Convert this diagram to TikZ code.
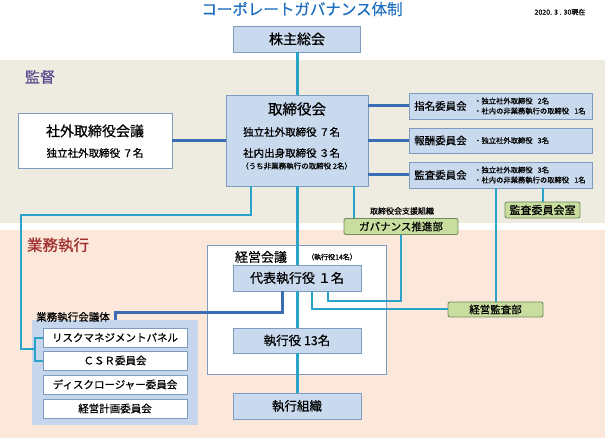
\documentclass[tikz,border=0pt]{standalone}
\usepackage{fontspec}
\setmainfont{Noto Sans CJK JP}[RawFeature={embolden=0.6}]

\definecolor{boxfill}{HTML}{C9DAEE}
\definecolor{boxline}{HTML}{7D9CC0}
\definecolor{gfill}{HTML}{C8DD9E}
\definecolor{gline}{HTML}{6E8C5E}
\definecolor{tealc}{HTML}{2BA2C8}
\definecolor{bluec}{HTML}{3B6DB4}
\definecolor{beigebg}{HTML}{EEEBE1}
\definecolor{peachbg}{HTML}{FCE8DA}
\definecolor{titleblue}{HTML}{1E6EBE}
\definecolor{supercol}{HTML}{5B4A8C}
\definecolor{execcol}{HTML}{A0302E}
\definecolor{panelfill}{HTML}{C6D6EC}

\begin{document}
\begin{tikzpicture}[x=1pt,y=-1pt,
    box/.style={draw=boxline,fill=boxfill,line width=0.9pt,inner sep=0pt},
    wbox/.style={draw=boxline,fill=white,line width=0.9pt,inner sep=0pt},
    gbox/.style={draw=gline,fill=gfill,line width=0.9pt,rounded corners=2pt,inner sep=0pt},
    spine/.style={draw=tealc,line width=3pt},
    link/.style={draw=tealc,line width=2pt},
    blink/.style={draw=bluec,line width=3pt},
    big/.style={font=\fontsize{14}{16}\selectfont},
    mid/.style={font=\fontsize{10.5}{12}\selectfont},
    tiny/.style={font=\fontsize{7.3}{10}\selectfont,inner sep=0pt},
  ]
  \useasboundingbox (0,0) rectangle (605,438);

  % bands
  \fill[beigebg] (0,60) rectangle (605,223);
  \fill[peachbg] (0,230) rectangle (605,438);

  % heading
  \node[text=titleblue,font=\fontsize{15.5}{17}\selectfont] (title) at (302,9) {コーポレートガバナンス体制};
  \node[font=\fontsize{7}{8}\selectfont] (date) at (560,12) {2020. 3 . 30現在};
  \node[text=supercol,font=\fontsize{15}{17}\selectfont] (superlabel) at (40,77) {監督};
  \node[text=execcol,font=\fontsize{15.5}{17}\selectfont] (execlabel) at (58,245) {業務執行};

  % supervision
  \node[box,big,minimum width=127pt,minimum height=26pt] (agm) at (297,39) {株主総会};
  \node[box,minimum width=142pt,minimum height=91pt] (board) at (297,140.5) {};
  \node[font=\fontsize{14.5}{16}\selectfont] (boardtitle) at (297,109) {取締役会};
  \node[mid,anchor=west,inner sep=0pt] (boardout) at (243,132) {独立社外取締役 ７名};
  \node[mid,anchor=west,inner sep=0pt] (boardin) at (243,153) {社内出身取締役 ３名};
  \node[font=\fontsize{7.5}{9}\selectfont,anchor=west,inner sep=0pt] (boardnote) at (241,166) {（うち非業務執行の取締役 2名）};

  \node[wbox,minimum width=154pt,minimum height=55pt] (ocd) at (95,140.5) {};
  \node[big] (ocdtitle) at (95,131) {社外取締役会議};
  \node[mid] (ocdmem) at (95,153) {独立社外取締役 ７名};

  % committees
  \node[box,minimum width=183pt,minimum height=26pt] (nom) at (500.5,106) {};
  \node[mid,anchor=west,inner sep=0pt] (nomname) at (414,106) {指名委員会};
  \node[tiny,anchor=west,align=left] (nommem) at (474,106) {・独立社外取締役\hspace{0.7em}2名\\・社内の非業務執行の取締役\hspace{0.7em}1名};
  \node[box,minimum width=183pt,minimum height=25pt] (rem) at (500.5,140.5) {};
  \node[mid,anchor=west,inner sep=0pt] (remname) at (414,140.5) {報酬委員会};
  \node[tiny,anchor=west,align=left] (remmem) at (474,140.5) {・独立社外取締役\hspace{0.7em}3名};
  \node[box,minimum width=183pt,minimum height=26pt] (aud) at (500.5,175) {};
  \node[mid,anchor=west,inner sep=0pt] (audname) at (414,175) {監査委員会};
  \node[tiny,anchor=west,align=left] (audmem) at (474,175) {・独立社外取締役\hspace{0.7em}3名\\・社内の非業務執行の取締役\hspace{0.7em}1名};

  \node[gbox,font=\fontsize{11}{12}\selectfont,minimum width=75pt,minimum height=16pt] (auditroom) at (542.5,210) {監査委員会室};
  \node[font=\fontsize{8}{9}\selectfont] (govnote) at (402,211) {取締役会支援組織};
  \node[gbox,mid,minimum width=114pt,minimum height=16pt] (govdept) at (401,226.5) {ガバナンス推進部};

  % execution
  \node[wbox,line width=0.6pt,minimum width=179pt,minimum height=129pt] (mgmt) at (296.5,309.5) {};
  \node[font=\fontsize{13}{15}\selectfont] (mgmttitle) at (261,257) {経営会議};
  \node[font=\fontsize{7}{8}\selectfont] (mgmtnote) at (332,257) {（執行役14名）};
  \node[box,font=\fontsize{13}{15}\selectfont,minimum width=128pt,minimum height=26pt] (ceo) at (297,278) {代表執行役 １名};
  \node[box,font=\fontsize{12.5}{15}\selectfont,minimum width=128pt,minimum height=25pt] (execs) at (297,340.5) {執行役 13名};
  \node[box,font=\fontsize{12.5}{15}\selectfont,minimum width=128pt,minimum height=26pt] (org) at (297,406) {執行組織};
  \node[gbox,mid,minimum width=95pt,minimum height=15pt] (auditdept) at (495.5,309.5) {経営監査部};

  \node[fill=panelfill,minimum width=166pt,minimum height=105pt] (panel) at (115,372.5) {};
  \node[mid,inner sep=0pt] (paneltitle) at (73,317) {業務執行会議体};
  \node[wbox,mid,minimum width=144pt,minimum height=19pt] (risk) at (115,337.5) {リスクマネジメントパネル};
  \node[wbox,mid,minimum width=144pt,minimum height=19pt] (csr) at (115,360.5) {ＣＳＲ委員会};
  \node[wbox,mid,minimum width=144pt,minimum height=19pt] (disc) at (115,384.5) {ディスクロージャー委員会};
  \node[wbox,mid,minimum width=144pt,minimum height=19pt] (plan) at (115,408.5) {経営計画委員会};

  % connectors
  \draw[spine] (agm.south) -- (board.north);
  \draw[spine] (board.south) -- (ceo.north);
  \draw[spine] (ceo.south) -- (execs.north);
  \draw[spine] (execs.south) -- (org.north);

  \draw[blink] (ocd.east) -- (board.west);
  \draw[blink] (nom.west) -- (nom.west -| board.east);
  \draw[blink] (rem.west) -- (rem.west -| board.east);
  \draw[blink] (aud.west) -- (aud.west -| board.east);

  \draw[link] (auditroom.north) -- (auditroom.north |- aud.south);
  \draw[link] (auditdept.north) -- (auditdept.north |- aud.south);
  \draw[link] ([xshift=57pt]board.south) -- ([xshift=57pt]board.south |- govdept.north);

  \coordinate (lbend) at (21,215);
  \coordinate (fork) at (35,349);
  \draw[link] ([xshift=-46pt]board.south) |- (lbend) |- (fork) |- (risk.west);
  \draw[link] (fork) |- (csr.west);

  \draw[blink] ([xshift=-15pt]ceo.south) -- ++(0,21) -| (panel.north);
  \draw[link] ([xshift=15pt]ceo.south) |- (auditdept.west);
  \draw[link] ([xshift=31pt]ceo.south) -- ++(0,10) -| (govdept.south);
\end{tikzpicture}
\end{document}
